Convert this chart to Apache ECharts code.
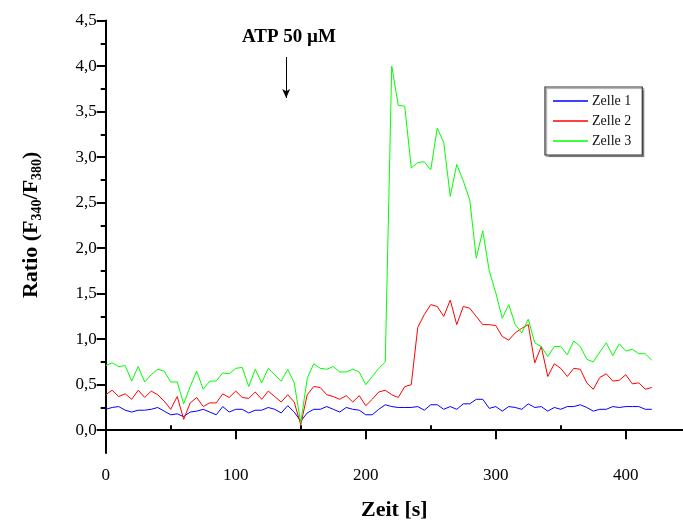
<!DOCTYPE html>
<html><head><meta charset="utf-8">
<script src="https://cdn.jsdelivr.net/npm/echarts@6/dist/echarts.min.js"></script>
<style>html,body{margin:0;padding:0;background:#fff}#c{width:683px;height:522px}</style>
</head><body><div id="c"></div>
<script>
const times = [0,5,10,15,20,25,30,35,40,45,50,55,60,65,70,75,80,85,90,95,100,105,110,115,120,125,130,135,140,145,150,155,160,165,170,175,180,185,190,195,200,205,210,215,220,225,230,235,240,245,250,255,260,265,270,275,280,285,290,295,300,305,310,315,320,325,330,335,340,345,350,355,360,365,370,375,380,385,390,395,400,405,410,415,420];
const zelle1 = [0.23,0.25,0.26,0.22,0.20,0.22,0.22,0.23,0.25,0.21,0.17,0.18,0.15,0.20,0.21,0.23,0.20,0.17,0.26,0.20,0.23,0.23,0.19,0.22,0.22,0.25,0.23,0.19,0.27,0.20,0.10,0.19,0.23,0.23,0.26,0.23,0.20,0.25,0.23,0.22,0.17,0.17,0.23,0.28,0.26,0.25,0.25,0.25,0.26,0.22,0.28,0.28,0.23,0.26,0.23,0.29,0.29,0.34,0.34,0.24,0.26,0.21,0.26,0.25,0.23,0.29,0.25,0.26,0.21,0.25,0.23,0.26,0.26,0.28,0.25,0.21,0.23,0.23,0.26,0.25,0.26,0.26,0.26,0.23,0.23];
const zelle2 = [0.39,0.44,0.37,0.40,0.34,0.44,0.36,0.43,0.39,0.32,0.23,0.37,0.12,0.30,0.36,0.26,0.30,0.30,0.40,0.36,0.43,0.36,0.35,0.42,0.34,0.43,0.37,0.31,0.39,0.31,0.06,0.39,0.48,0.47,0.39,0.37,0.34,0.38,0.31,0.38,0.27,0.34,0.42,0.44,0.39,0.36,0.48,0.50,1.13,1.27,1.38,1.36,1.25,1.43,1.16,1.36,1.34,1.25,1.16,1.16,1.15,1.03,0.99,1.07,1.12,1.16,0.74,0.92,0.59,0.73,0.68,0.59,0.68,0.67,0.52,0.45,0.58,0.62,0.54,0.55,0.61,0.51,0.52,0.45,0.47];
const zelle3 = [0.71,0.74,0.70,0.71,0.54,0.70,0.53,0.61,0.67,0.65,0.53,0.53,0.29,0.48,0.65,0.45,0.54,0.54,0.63,0.62,0.68,0.69,0.48,0.67,0.52,0.68,0.61,0.54,0.67,0.52,0.08,0.57,0.73,0.68,0.67,0.70,0.64,0.64,0.67,0.64,0.50,0.59,0.68,0.75,4.00,3.57,3.56,2.88,2.94,2.95,2.86,3.32,3.16,2.57,2.92,2.74,2.53,1.89,2.19,1.75,1.51,1.23,1.38,1.16,1.07,1.22,0.96,0.92,0.81,0.92,0.92,0.83,0.98,0.92,0.78,0.75,0.86,0.96,0.82,0.95,0.87,0.89,0.84,0.84,0.77];
const seriesNames = ['Zelle 1','Zelle 2','Zelle 3'];
const yMajorTicks = [0,0.5,1,1.5,2,2.5,3,3.5,4,4.5];
const yMinorTicks = [0.25,0.75,1.25,1.75,2.25,2.75,3.25,3.75,4.25];
const xMajorTicks = [0,100,200,300,400];
const xMinorTicks = [50,150,250,350];
const annotationText = 'ATP 50 µM';
const arrowX = 138.8, arrowTop = 4.10, arrowBottom = 3.65;

const FONT = '"Liberation Serif","Times New Roman",serif';
const colors = ['#0000ff','#ff0000','#00ff00'];
const values = [zelle1, zelle2, zelle3];

const chart = echarts.init(document.getElementById('c'), null, {renderer:'canvas'});
const baseX = {type:'value', min:0, max:444, position:'bottom', splitLine:{show:false}};
const baseY = {type:'value', min:-0.25, max:4.5, position:'left', splitLine:{show:false}};
const option = {
  animation:false,
  backgroundColor:'#fff',
  grid:{left:105.7, right:0, top:20.6, bottom:69, containLabel:false, outerBoundsMode:'none'},
  legend:{
    orient:'vertical', left:545, top:87,
    padding:[7,11,7,8], itemGap:6, itemWidth:35, itemHeight:1.6, icon:'rect',
    borderColor:'#333', borderWidth:1.2,
    shadowColor:'rgba(0,0,0,0.35)', shadowOffsetX:1.5, shadowOffsetY:1.5, shadowBlur:1,
    backgroundColor:'#fff',
    textStyle:{fontFamily:FONT, fontSize:14, color:'#111', lineHeight:14, height:14, padding:[0,0,0,-1]},
    data:seriesNames
  },
  xAxis:[
    Object.assign({}, baseX, {
      axisLine:{show:true, lineStyle:{color:'#000', width:2}},
      axisTick:{show:true, inside:false, length:9, customValues:xMajorTicks, lineStyle:{color:'#000', width:2}},
      axisLabel:{customValues:xMajorTicks, fontFamily:FONT, fontSize:17, color:'#000', margin:14},
      name:'Zeit [s]', nameLocation:'middle', nameGap:46,
      nameTextStyle:{fontFamily:FONT, fontSize:22, fontWeight:'bold', color:'#000'}
    }),
    Object.assign({}, baseX, {
      axisLine:{show:false},
      axisTick:{show:true, inside:true, length:5, customValues:xMinorTicks, lineStyle:{color:'#000', width:2}},
      axisLabel:{show:false}
    })
  ],
  yAxis:[
    Object.assign({}, baseY, {
      axisLine:{show:true, lineStyle:{color:'#000', width:2}},
      axisTick:{show:true, inside:false, length:9, customValues:yMajorTicks, lineStyle:{color:'#000', width:2}},
      axisLabel:{customValues:yMajorTicks, fontFamily:FONT, fontSize:17, color:'#000', margin:9,
        formatter:v => v.toFixed(1).replace('.', ',')},
      name:'{a|Ratio (F}{s|340}{a|/F}{s|380}{a|)}', nameLocation:'middle', nameGap:61, nameRotate:90,
      nameTextStyle:{padding:[0,0,0,24], rich:{
        a:{fontFamily:FONT, fontSize:22, fontWeight:'bold', color:'#000', lineHeight:26},
        s:{fontFamily:FONT, fontSize:14, fontWeight:'bold', color:'#000', lineHeight:8, verticalAlign:'bottom'}
      }}
    }),
    Object.assign({}, baseY, {
      axisLine:{show:false},
      axisTick:{show:true, inside:false, length:5, customValues:yMinorTicks, lineStyle:{color:'#000', width:2}},
      axisLabel:{show:false}
    })
  ],
  series: seriesNames.map((n,k) => {
    const s = {
      name:n, type:'line', xAxisIndex:0, yAxisIndex:0, symbol:'none',
      lineStyle:{color:colors[k], width:1}, itemStyle:{color:colors[k]},
      data: times.map((t,i) => [t, values[k][i]])
    };
    if (k === 0) {
      s.markLine = {
        silent:true, symbol:['none','arrow'], symbolSize:[6,9],
        lineStyle:{color:'#000', width:1, type:'solid'}, label:{show:false},
        data:[[{coord:[arrowX, arrowTop]},{coord:[arrowX, arrowBottom]}]]
      };
    }
    return s;
  }),
  graphic:[{
    type:'text', left:242, top:28,
    style:{text:annotationText, font:'bold 19px "Liberation Serif","Times New Roman",serif', fill:'#000'}
  }]
};
chart.setOption(option);
</script>
</body></html>
